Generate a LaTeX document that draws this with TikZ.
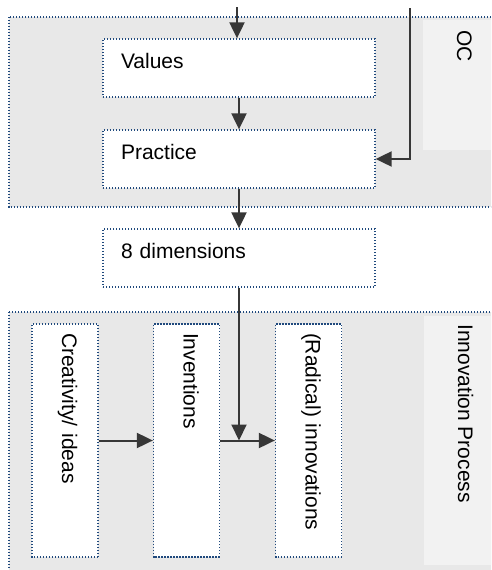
\documentclass[tikz,border=0pt]{standalone}
\usepackage{fontspec}
\setmainfont{Liberation Sans}
\usetikzlibrary{arrows.meta,positioning}
\definecolor{dotblue}{RGB}{31,73,125}
\definecolor{panelgray}{RGB}{232,232,232}
\definecolor{labelgray}{RGB}{242,242,242}
\definecolor{arrowgray}{RGB}{55,55,55}

\begin{document}
\begin{tikzpicture}[x=1pt, y=-1pt, every node/.style={font=\fontsize{21}{25}\selectfont}]
\tikzset{
    dots/.style={draw=dotblue, line width=1.3pt, dash pattern=on 1.3pt off 1.7pt},
    panel/.style={dots, fill=panelgray},
    labelpanel/.style={fill=labelgray},
    hbox/.style={dots, fill=white,
        text width=236pt, inner xsep=18pt, inner ysep=4pt, text height=25pt, text depth=25pt, align=left},
    vbox/.style={dots, fill=white, rotate=-90,
        text width=215pt, inner xsep=9pt, inner ysep=4pt, text height=32pt, text depth=26pt, align=left},
    flow/.style={arrowgray, line width=2pt, -{Triangle[length=16pt,width=15pt]}},
    sidelabel/.style={rotate=-90, anchor=base west, inner sep=0pt}
}
\useasboundingbox (0,0) rectangle (491,570);
\clip (0,0) rectangle (491,570);

% OC block
\begin{scope}
    \draw[panel] (9,17) rectangle (510,207);
    \fill[labelpanel] (423,20) rectangle (510,150);
    \node[sidelabel] (oc) at (457,30) {OC};
    \node[hbox] (values) at (239,68) {Values};
    \node[hbox] (practice) at (239,159) {Practice};
\end{scope}

% between the blocks
\node[hbox] (dims) at (239,258) {8 dimensions};

% Innovation process block (rotated boxes: north is page right, south is page left)
\begin{scope}
    \draw[panel] (9,312) rectangle (510,590);
    \fill[labelpanel] (424,316) rectangle (510,565);
    \node[sidelabel] (process) at (458,324) {Innovation Process};
    \node[vbox] (ideas) at (65,440.5) {Creativity/ ideas};
    \node[vbox] (inventions) at (186.5,440.5) {Inventions};
    \node[vbox] (innovations) at (308.5,440.5) {(Radical) innovations};
\end{scope}

% connectors
\coordinate (intop) at (237,7);
\coordinate (rtop) at (410,8);
\draw[flow] (intop) -- (intop |- values.north);
\draw[flow] (values.south) -- (practice.north);
\draw[flow] (rtop) |- (practice.east);
\draw[flow] (practice.south) -- (dims.north);
\draw[flow] (ideas.north) -- (inventions.south);
\draw[flow] (inventions.north) -- (innovations.south);
\draw[flow] (dims.south) -- (dims.south |- inventions.north);

\end{tikzpicture}
\end{document}
